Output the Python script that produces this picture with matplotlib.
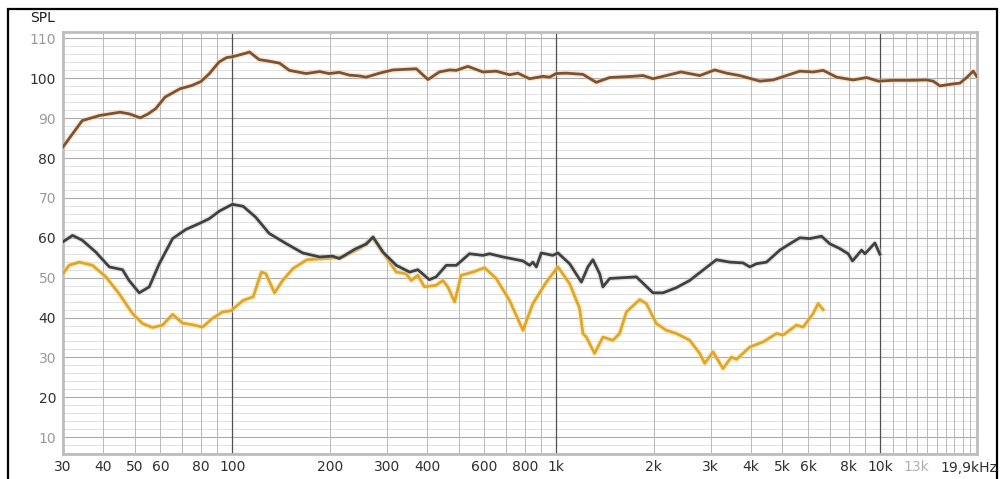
import matplotlib
matplotlib.use("Agg")
import matplotlib.pyplot as plt
import matplotlib.patheffects as pe
from matplotlib.patches import Rectangle

# values (Hz, dB SPL)
brown_hz = [30, 33, 34.4, 39, 45, 48, 52, 55, 58, 62, 69, 75, 80, 85, 91, 96, 100, 110, 113,
            121, 130, 140, 150, 169, 186, 199, 214, 230, 247, 259, 285, 313, 370, 402, 436,
            469, 492, 534, 594, 653, 718, 762, 828, 911, 955, 1000, 1075, 1210, 1331, 1464,
            1728, 1855, 1992, 2190, 2430, 2780, 3090, 3360, 3690, 4260, 4680, 5660, 6220,
            6680, 7350, 8270, 9100, 9880, 10990, 12380, 13940, 14610, 15330, 16460, 17670,
            18540, 19430, 19900]
brown_db = [82.8, 87.4, 89.4, 90.7, 91.5, 91.1, 90.1, 91.1, 92.4, 95.3, 97.4, 98.2, 99.2,
            101.2, 104.1, 105.2, 105.4, 106.3, 106.6, 104.7, 104.3, 103.8, 102.0, 101.2,
            101.7, 101.2, 101.5, 100.8, 100.6, 100.3, 101.3, 102.1, 102.4, 99.7, 101.6, 102.1,
            102.0, 103.0, 101.6, 101.8, 100.9, 101.3, 99.9, 100.5, 100.3, 101.2, 101.3, 101.0,
            99.0, 100.2, 100.5, 100.7, 99.9, 100.7, 101.6, 100.7, 102.1, 101.3, 100.7, 99.3,
            99.6, 101.8, 101.6, 102.0, 100.3, 99.6, 100.2, 99.3, 99.5, 99.5, 99.6, 99.3, 98.1,
            98.5, 98.8, 100.2, 101.8, 100.5]

gray_hz = [30, 32.1, 34.4, 37.9, 41.7, 45.8, 48, 51.6, 55.4, 59.5, 65.4, 71.9, 79.1, 84.9,
           91.2, 100, 108, 118, 130, 147, 165, 186, 204, 214, 241, 259, 272, 292, 321, 353,
           374, 406, 426, 458, 492, 540, 594, 623, 685, 790, 828, 848, 869, 900, 977, 1013,
           1101, 1197, 1254, 1299, 1363, 1395, 1464, 1770, 1992, 2138, 2353, 2586, 2843,
           3127, 3439, 3780, 3965, 4158, 4465, 4908, 5271, 5657, 6076, 6604, 7004, 7521,
           7980, 8233, 8780, 8990, 9310, 9650, 10000]
gray_db = [59.0, 60.6, 59.4, 56.4, 52.7, 52.0, 49.3, 46.2, 47.7, 53.5, 59.8, 62.1, 63.6,
           64.8, 66.7, 68.4, 67.9, 65.2, 61.1, 58.5, 56.2, 55.2, 55.4, 54.8, 57.3, 58.4,
           60.2, 56.4, 53.1, 51.4, 52.0, 49.5, 50.2, 53.1, 53.1, 56.0, 55.6, 56.0, 55.2,
           54.2, 53.1, 53.9, 52.7, 56.2, 55.6, 56.2, 53.5, 48.9, 52.7, 54.5, 51.0, 47.7,
           49.8, 50.2, 46.2, 46.2, 47.5, 49.3, 51.9, 54.5, 53.9, 53.7, 52.7, 53.5, 53.9,
           56.9, 58.5, 60.0, 59.8, 60.4, 58.5, 57.3, 56.0, 54.2, 56.9, 56.0, 57.3, 58.7, 55.9]

gold_hz = [30, 31.3, 33.7, 37.0, 40.7, 44.7, 49.2, 52.8, 56.7, 60.9, 65.4, 70.2, 75.4,
           80.9, 86.9, 93.3, 99.1, 108, 116, 123, 127, 135, 143, 154, 170, 195, 219, 247,
           272, 306, 321, 344, 357, 374, 392, 426, 447, 463, 486, 509, 553, 601, 653, 718,
           790, 848, 933, 1013, 1101, 1182, 1210, 1240, 1315, 1395, 1498, 1571, 1648, 1812,
           1900, 2040, 2191, 2353, 2586, 2777, 2877, 3052, 3278, 3480, 3606, 3965, 4360,
           4795, 5024, 5526, 5794, 6221, 6447, 6679]
gold_db = [51.0, 53.1, 53.9, 53.1, 50.2, 46.0, 41.0, 38.5, 37.5, 38.1, 40.8, 38.6, 38.2,
           37.6, 39.8, 41.4, 41.7, 44.3, 45.2, 51.4, 51.0, 46.2, 49.3, 52.3, 54.5, 54.8,
           55.2, 57.3, 60.0, 53.9, 51.4, 51.0, 49.3, 50.6, 47.7, 48.1, 49.3, 47.7, 43.9,
           50.6, 51.4, 52.5, 49.8, 44.3, 36.8, 43.5, 48.9, 52.7, 48.5, 42.3, 36.0, 35.1,
           31.0, 35.1, 34.3, 36.0, 41.4, 44.5, 43.5, 38.5, 36.8, 36.0, 34.3, 31.0, 28.5,
           31.4, 27.2, 30.1, 29.5, 32.6, 33.9, 36.0, 35.6, 38.1, 37.6, 41.0, 43.5, 42.0]

xtick_hz = [30, 40, 50, 60, 80, 100, 200, 300, 400, 600, 800, 1000,
            2000, 3000, 4000, 5000, 6000, 8000, 10000, 13000]
xtick_labels = ["30", "40", "50", "60", "80", "100", "200", "300", "400", "600", "800", "1k",
                "2k", "3k", "4k", "5k", "6k", "8k", "10k", "13k"]
ytick_db = list(range(10, 111, 10))


def main() -> None:
    fig = plt.figure(figsize=(10, 4.79), dpi=100)
    ax = fig.add_axes([0.063, 0.052, 0.914, 0.881])
    ax.set_xscale("log")
    ax.set_xlim(30, 19950)
    ax.set_ylim(5.75, 111.6)

    # horizontal grid first, every 2 dB, darker every 10
    for y in range(6, 112, 2):
        major = y % 10 == 0
        ax.axhline(y, color="#ababab" if major else "#e0e0e0", lw=0.8 if major else 0.7, zorder=1)
    # vertical grid: 1..9 per decade, 1k steps above 10k; decades darker, on top
    vlines = [m * 10 ** d for d in range(1, 4) for m in range(1, 10)]
    vlines += list(range(10000, 20000, 1000))
    vlines = [v for v in vlines if 30 <= v <= 19950]
    for v in vlines:
        dark = v in (100, 1000, 10000)
        ax.axvline(v, color="#505050" if dark else "#b8b8b8", lw=0.9 if dark else 0.7,
                   zorder=2 if dark else 1.5)

    ax.set_xticks(xtick_hz)
    ax.set_xticklabels(xtick_labels)
    ax.xaxis.set_minor_locator(plt.NullLocator())
    ax.set_yticks(ytick_db)
    ax.tick_params(length=0, labelsize=10, colors="#303030")
    ax.tick_params(axis="x", pad=4)
    ax.tick_params(axis="y", pad=5)
    for lab, v in zip(ax.get_yticklabels(), ytick_db):
        lab.set_color("#303030" if v % 20 == 0 else "#9a9a9a")
    ax.get_xticklabels()[-1].set_color("#b0b0b0")

    for s in ax.spines.values():
        s.set_color("#bdbdbd")
        s.set_linewidth(2.0)

    def halo(c):
        return [pe.Stroke(linewidth=4.0, foreground=c, alpha=0.45), pe.Normal()]

    ax.plot(gold_hz, gold_db, color="#e0a52a", lw=2.0, zorder=3, path_effects=halo("#f7dc8a"))
    ax.plot(gray_hz, gray_db, color="#404040", lw=2.0, zorder=4, path_effects=halo("#c8c8c8"))
    ax.plot(brown_hz, brown_db, color="#7d5230", lw=2.0, zorder=5, path_effects=halo("#f3c9a0"))

    fig.text(0.030, 1 - 18 / 479, "SPL", fontsize=10, color="#202020", va="center")
    fig.text(0.997, 1 - 468 / 479, "19,9kHz", fontsize=10, color="#303030",
             ha="right", va="center")

    # outer frame around the whole picture
    fig.patches.append(Rectangle((0.008, -0.05), 0.989, 1.05 - 9 / 479, transform=fig.transFigure,
                                 fill=False, edgecolor="black", lw=1.6))

    fig.savefig("out.png", dpi=100)
    plt.close(fig)


if __name__ == "__main__":
    main()
